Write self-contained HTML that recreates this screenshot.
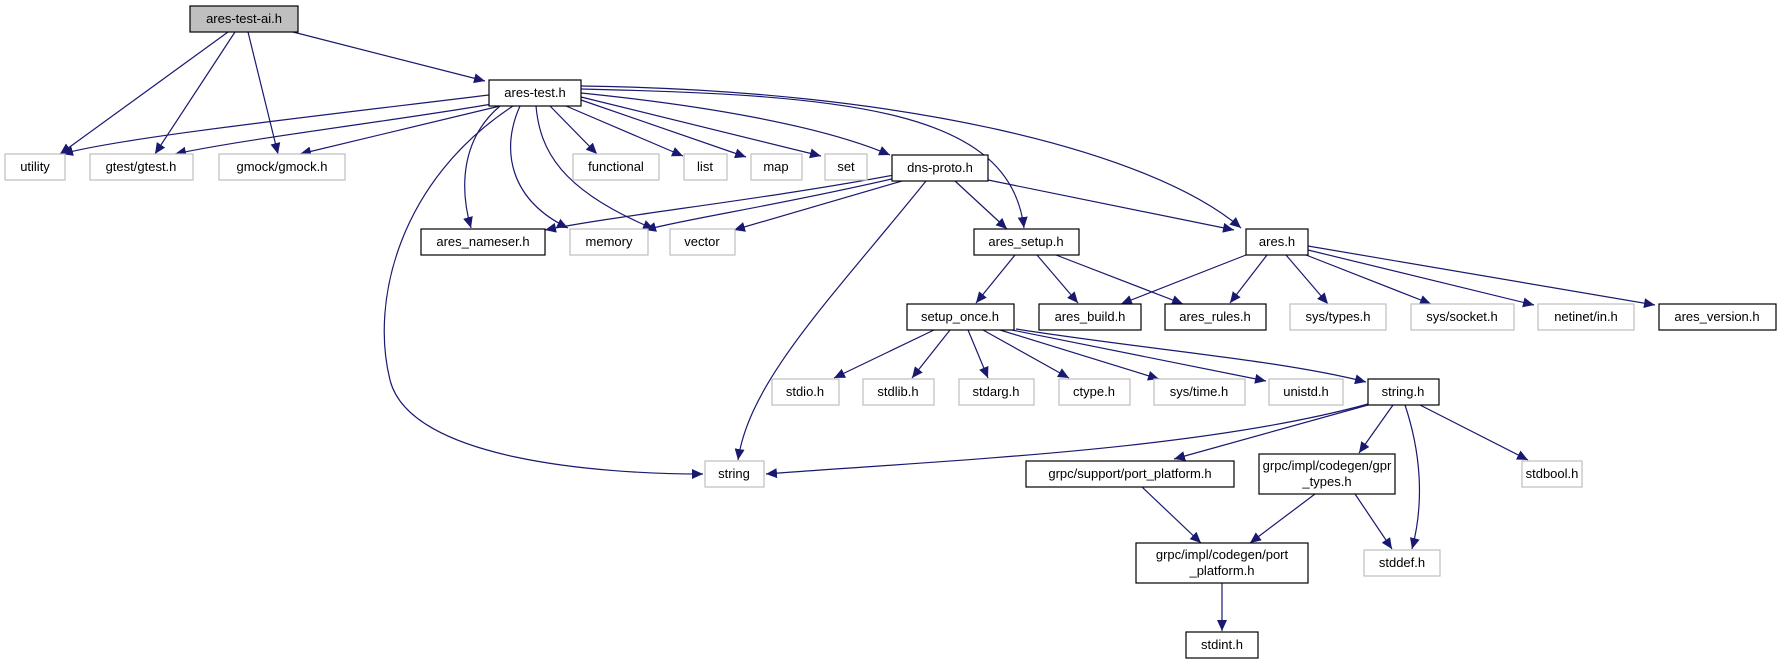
<!DOCTYPE html>
<html><head><meta charset="utf-8"><style>
html,body{margin:0;padding:0;background:#fff;width:1781px;height:664px;overflow:hidden}
svg text{font-family:"Liberation Sans","DejaVu Sans",sans-serif;font-size:13px;fill:#000}
</style></head><body>
<svg width="1781" height="664" viewBox="0 0 1781 664" xmlns="http://www.w3.org/2000/svg">
<defs><marker id="a" markerUnits="userSpaceOnUse" markerWidth="12" markerHeight="10" refX="11" refY="5" orient="auto"><path d="M0,0 L11,5 L0,10 Z" fill="#191970"/></marker></defs>
<g fill="none" stroke="#191970" stroke-width="1.2" marker-end="url(#a)">
<path d="M228,32 L60,154"/>
<path d="M235,32 L155,154"/>
<path d="M248,32 L278,154"/>
<path d="M293,32 L485,81"/>
<path d="M489,95 C300,118 120,138 62,154"/>
<path d="M492,104 C400,120 250,138 175,154"/>
<path d="M500,106 L300,154"/>
<path d="M513,106 C400,180 370,300 390,380 C410,460 600,474 703,474"/>
<path d="M500,106 C460,140 460,190 471,228"/>
<path d="M520,106 C500,150 510,200 568,228"/>
<path d="M536,106 C540,150 560,190 654,229"/>
<path d="M550,106 L597,154"/>
<path d="M566,106 L683,156"/>
<path d="M581,100 L746,157"/>
<path d="M581,97 L821,156"/>
<path d="M581,93 C700,105 820,125 890,155"/>
<path d="M581,89 C850,95 1010,110 1024,228"/>
<path d="M581,86 C900,90 1150,150 1241,228"/>
<path d="M894,175 C760,200 620,215 545,230"/>
<path d="M896,178 C780,205 680,220 645,230"/>
<path d="M902,181 L734,230"/>
<path d="M926,181 C830,300 750,380 738,460"/>
<path d="M955,181 L1007,229"/>
<path d="M988,180 L1234,230"/>
<path d="M1015,255 L976,303"/>
<path d="M1037,255 L1078,303"/>
<path d="M1056,255 L1183,304"/>
<path d="M1246,255 L1121,304"/>
<path d="M1267,255 L1230,303"/>
<path d="M1286,255 L1328,304"/>
<path d="M1306,255 L1431,304"/>
<path d="M1308,250 L1534,305"/>
<path d="M1308,246 L1655,305"/>
<path d="M934,330 L834,378"/>
<path d="M950,330 L912,378"/>
<path d="M968,330 L988,378"/>
<path d="M983,330 L1069,378"/>
<path d="M1000,330 L1159,379"/>
<path d="M1012,330 L1266,381"/>
<path d="M1016,329 C1150,350 1280,360 1366,382"/>
<path d="M1368,404 C1200,450 950,460 766,474"/>
<path d="M1368,405 L1174,459"/>
<path d="M1393,405 L1359,453"/>
<path d="M1405,405 C1420,450 1425,500 1412,549"/>
<path d="M1420,405 L1528,460"/>
<path d="M1142,487 L1201,543"/>
<path d="M1315,494 L1250,543"/>
<path d="M1355,494 L1392,549"/>
<path d="M1222,583 L1222,631"/>
</g>
<g stroke-width="1.2">
<rect x="190" y="6" width="108" height="26" fill="#bfbfbf" stroke="#000"/>
<rect x="489" y="80" width="92" height="26" fill="#fff" stroke="#000"/>
<rect x="5" y="154" width="60" height="26" fill="#fff" stroke="#bfbfbf"/>
<rect x="90" y="154" width="103" height="26" fill="#fff" stroke="#bfbfbf"/>
<rect x="219" y="154" width="126" height="26" fill="#fff" stroke="#bfbfbf"/>
<rect x="573" y="154" width="86" height="26" fill="#fff" stroke="#bfbfbf"/>
<rect x="684" y="154" width="43" height="26" fill="#fff" stroke="#bfbfbf"/>
<rect x="751" y="154" width="51" height="26" fill="#fff" stroke="#bfbfbf"/>
<rect x="825" y="154" width="42" height="26" fill="#fff" stroke="#bfbfbf"/>
<rect x="892" y="155" width="96" height="26" fill="#fff" stroke="#000"/>
<rect x="421" y="229" width="124" height="26" fill="#fff" stroke="#000"/>
<rect x="570" y="229" width="78" height="26" fill="#fff" stroke="#bfbfbf"/>
<rect x="670" y="229" width="65" height="26" fill="#fff" stroke="#bfbfbf"/>
<rect x="974" y="229" width="105" height="26" fill="#fff" stroke="#000"/>
<rect x="1246" y="229" width="62" height="26" fill="#fff" stroke="#000"/>
<rect x="907" y="304" width="107" height="26" fill="#fff" stroke="#000"/>
<rect x="1039" y="304" width="102" height="26" fill="#fff" stroke="#000"/>
<rect x="1165" y="304" width="101" height="26" fill="#fff" stroke="#000"/>
<rect x="1290" y="304" width="96" height="26" fill="#fff" stroke="#bfbfbf"/>
<rect x="1411" y="304" width="103" height="26" fill="#fff" stroke="#bfbfbf"/>
<rect x="1538" y="304" width="96" height="26" fill="#fff" stroke="#bfbfbf"/>
<rect x="1659" y="304" width="117" height="26" fill="#fff" stroke="#000"/>
<rect x="772" y="379" width="67" height="26" fill="#fff" stroke="#bfbfbf"/>
<rect x="863" y="379" width="71" height="26" fill="#fff" stroke="#bfbfbf"/>
<rect x="959" y="379" width="75" height="26" fill="#fff" stroke="#bfbfbf"/>
<rect x="1059" y="379" width="71" height="26" fill="#fff" stroke="#bfbfbf"/>
<rect x="1154" y="379" width="91" height="26" fill="#fff" stroke="#bfbfbf"/>
<rect x="1269" y="379" width="74" height="26" fill="#fff" stroke="#bfbfbf"/>
<rect x="1368" y="379" width="71" height="26" fill="#fff" stroke="#000"/>
<rect x="705" y="461" width="59" height="26" fill="#fff" stroke="#bfbfbf"/>
<rect x="1026" y="461" width="208" height="26" fill="#fff" stroke="#000"/>
<rect x="1259" y="454" width="136" height="40" fill="#fff" stroke="#000"/>
<rect x="1522" y="461" width="60" height="26" fill="#fff" stroke="#bfbfbf"/>
<rect x="1136" y="543" width="172" height="40" fill="#fff" stroke="#000"/>
<rect x="1364" y="550" width="76" height="26" fill="#fff" stroke="#bfbfbf"/>
<rect x="1186" y="632" width="72" height="26" fill="#fff" stroke="#000"/>
</g>
<g text-anchor="middle">
<text x="244" y="23">ares-test-ai.h</text>
<text x="535" y="97">ares-test.h</text>
<text x="35" y="171">utility</text>
<text x="141" y="171">gtest/gtest.h</text>
<text x="282" y="171">gmock/gmock.h</text>
<text x="616" y="171">functional</text>
<text x="705" y="171">list</text>
<text x="776" y="171">map</text>
<text x="846" y="171">set</text>
<text x="940" y="172">dns-proto.h</text>
<text x="483" y="246">ares_nameser.h</text>
<text x="609" y="246">memory</text>
<text x="702" y="246">vector</text>
<text x="1026" y="246">ares_setup.h</text>
<text x="1277" y="246">ares.h</text>
<text x="960" y="321">setup_once.h</text>
<text x="1090" y="321">ares_build.h</text>
<text x="1215" y="321">ares_rules.h</text>
<text x="1338" y="321">sys/types.h</text>
<text x="1462" y="321">sys/socket.h</text>
<text x="1586" y="321">netinet/in.h</text>
<text x="1717" y="321">ares_version.h</text>
<text x="805" y="396">stdio.h</text>
<text x="898" y="396">stdlib.h</text>
<text x="996" y="396">stdarg.h</text>
<text x="1094" y="396">ctype.h</text>
<text x="1199" y="396">sys/time.h</text>
<text x="1306" y="396">unistd.h</text>
<text x="1403" y="396">string.h</text>
<text x="734" y="478">string</text>
<text x="1130" y="478">grpc/support/port_platform.h</text>
<text x="1327" y="470">grpc/impl/codegen/gpr</text>
<text x="1327" y="486">_types.h</text>
<text x="1552" y="478">stdbool.h</text>
<text x="1222" y="559">grpc/impl/codegen/port</text>
<text x="1222" y="575">_platform.h</text>
<text x="1402" y="567">stddef.h</text>
<text x="1222" y="649">stdint.h</text>
</g>
</svg>
</body></html>
